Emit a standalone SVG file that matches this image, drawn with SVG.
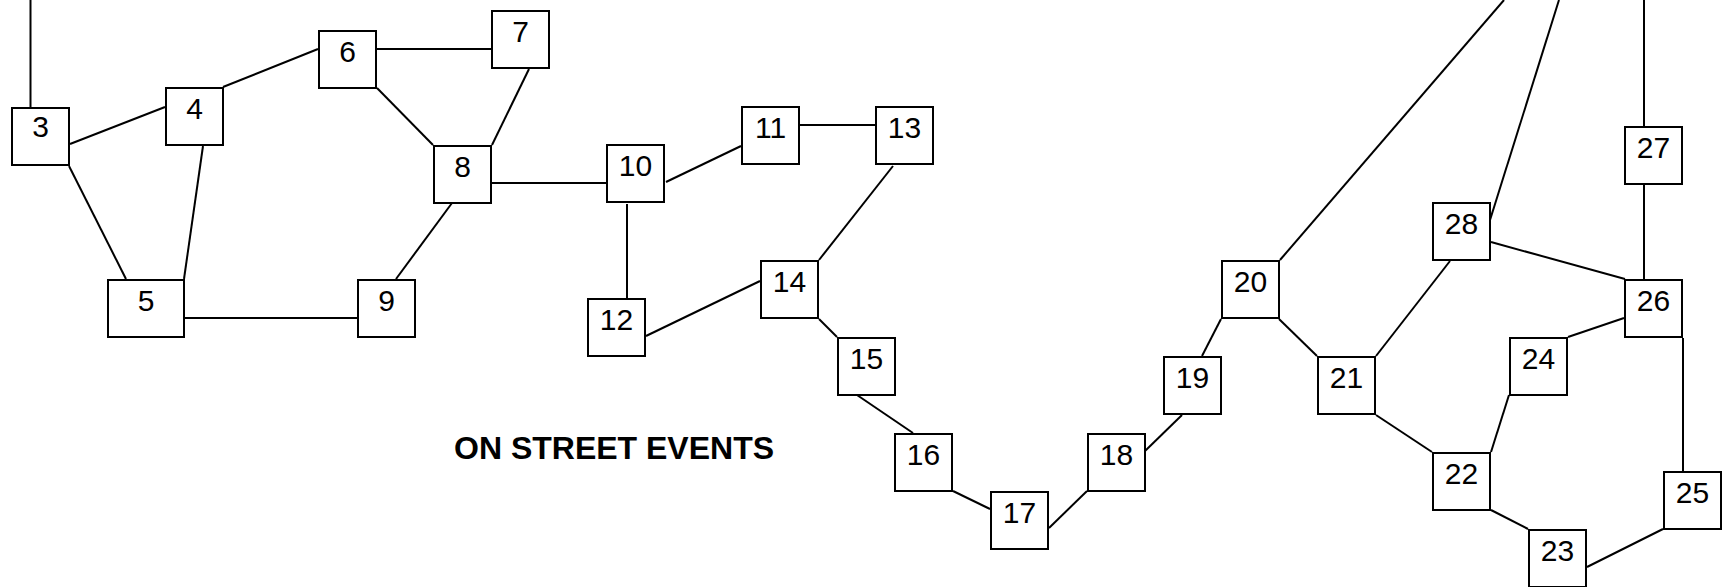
<svg xmlns="http://www.w3.org/2000/svg" width="1724" height="587" viewBox="0 0 1724 587">
<style>
.n rect{fill:#fff;stroke:#000;stroke-width:2}
.n text{font-family:"Liberation Sans",Arial,sans-serif;font-size:30px;text-anchor:middle;fill:#000}
#edges line{stroke:#000;stroke-width:2}
.title{font-family:"Liberation Sans",Arial,sans-serif;font-size:32px;font-weight:bold;fill:#000}
</style>
<rect width="1724" height="587" fill="#fff"/>
<g id="edges">
<line x1="30.5" y1="0" x2="30.5" y2="108"/>
<line x1="70" y1="144" x2="165" y2="107"/>
<line x1="223" y1="87" x2="318" y2="49"/>
<line x1="377" y1="49" x2="491" y2="49"/>
<line x1="377" y1="88" x2="433" y2="145"/>
<line x1="529" y1="69" x2="492" y2="145"/>
<line x1="492" y1="183" x2="606" y2="183"/>
<line x1="452" y1="203" x2="396" y2="279"/>
<line x1="69" y1="166" x2="126" y2="279"/>
<line x1="203" y1="146" x2="184" y2="279"/>
<line x1="185" y1="318" x2="357" y2="318"/>
<line x1="666" y1="182" x2="741" y2="146"/>
<line x1="800" y1="125" x2="875" y2="125"/>
<line x1="627" y1="204" x2="627" y2="298"/>
<line x1="646" y1="336" x2="760" y2="281"/>
<line x1="893" y1="166" x2="819" y2="260"/>
<line x1="819" y1="319" x2="837" y2="337"/>
<line x1="857" y1="395" x2="913" y2="433"/>
<line x1="953" y1="491" x2="990" y2="509"/>
<line x1="1049" y1="528" x2="1087" y2="491"/>
<line x1="1145" y1="451" x2="1182" y2="415"/>
<line x1="1202" y1="356" x2="1221" y2="319"/>
<line x1="1279" y1="319" x2="1317" y2="356"/>
<line x1="1280" y1="260" x2="1504" y2="0"/>
<line x1="1376" y1="356" x2="1450" y2="261"/>
<line x1="1490" y1="220" x2="1559" y2="0"/>
<line x1="1491" y1="242" x2="1625" y2="279"/>
<line x1="1644" y1="0" x2="1644" y2="126"/>
<line x1="1644" y1="184" x2="1644" y2="279"/>
<line x1="1568" y1="337" x2="1624" y2="318"/>
<line x1="1683" y1="338" x2="1683" y2="471"/>
<line x1="1376" y1="415" x2="1432" y2="452"/>
<line x1="1491" y1="452" x2="1509" y2="395"/>
<line x1="1491" y1="510" x2="1528" y2="529"/>
<line x1="1587" y1="567" x2="1663" y2="529"/>
</g>
<g id="n3" class="n"><rect x="12" y="108" width="57" height="57"/><text x="40.5" y="137">3</text></g>
<g id="n4" class="n"><rect x="166" y="88" width="57" height="57"/><text x="194.5" y="119">4</text></g>
<g id="n5" class="n"><rect x="108" y="280" width="76" height="57"/><text x="146" y="311">5</text></g>
<g id="n6" class="n"><rect x="319" y="31" width="57" height="57"/><text x="347.5" y="62">6</text></g>
<g id="n7" class="n"><rect x="492" y="11" width="57" height="57"/><text x="520.5" y="42">7</text></g>
<g id="n8" class="n"><rect x="434" y="146" width="57" height="57"/><text x="462.5" y="177">8</text></g>
<g id="n9" class="n"><rect x="358" y="280" width="57" height="57"/><text x="386.5" y="311">9</text></g>
<g id="n10" class="n"><rect x="607" y="145" width="57" height="57"/><text x="635.5" y="176">10</text></g>
<g id="n11" class="n"><rect x="742" y="107" width="57" height="57"/><text x="770.5" y="138">11</text></g>
<g id="n12" class="n"><rect x="588" y="299" width="57" height="57"/><text x="616.5" y="330">12</text></g>
<g id="n13" class="n"><rect x="876" y="107" width="57" height="57"/><text x="904.5" y="138">13</text></g>
<g id="n14" class="n"><rect x="761" y="261" width="57" height="57"/><text x="789.5" y="292">14</text></g>
<g id="n15" class="n"><rect x="838" y="338" width="57" height="57"/><text x="866.5" y="369">15</text></g>
<g id="n16" class="n"><rect x="895" y="434" width="57" height="57"/><text x="923.5" y="465">16</text></g>
<g id="n17" class="n"><rect x="991" y="492" width="57" height="57"/><text x="1019.5" y="523">17</text></g>
<g id="n18" class="n"><rect x="1088" y="434" width="57" height="57"/><text x="1116.5" y="465">18</text></g>
<g id="n19" class="n"><rect x="1164" y="357" width="57" height="57"/><text x="1192.5" y="388">19</text></g>
<g id="n20" class="n"><rect x="1222" y="261" width="57" height="57"/><text x="1250.5" y="292">20</text></g>
<g id="n21" class="n"><rect x="1318" y="357" width="57" height="57"/><text x="1346.5" y="388">21</text></g>
<g id="n22" class="n"><rect x="1433" y="453" width="57" height="57"/><text x="1461.5" y="484">22</text></g>
<g id="n23" class="n"><rect x="1529" y="530" width="57" height="57"/><text x="1557.5" y="561">23</text></g>
<g id="n24" class="n"><rect x="1510" y="338" width="57" height="57"/><text x="1538.5" y="369">24</text></g>
<g id="n25" class="n"><rect x="1664" y="472" width="57" height="57"/><text x="1692.5" y="503">25</text></g>
<g id="n26" class="n"><rect x="1625" y="280" width="57" height="57"/><text x="1653.5" y="311">26</text></g>
<g id="n27" class="n"><rect x="1625" y="127" width="57" height="57"/><text x="1653.5" y="158">27</text></g>
<g id="n28" class="n"><rect x="1433" y="203" width="57" height="57"/><text x="1461.5" y="234">28</text></g>
<g id="label"><text class="title" x="454" y="459">ON STREET EVENTS</text></g>
</svg>
